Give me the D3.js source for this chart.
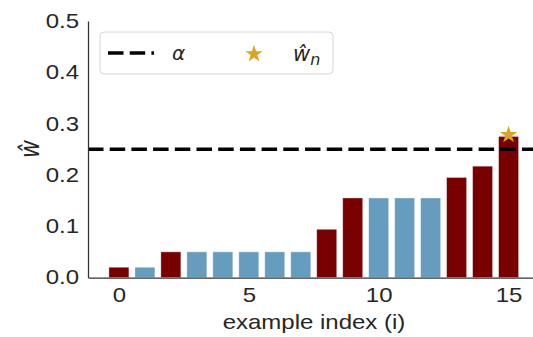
<!DOCTYPE html>
<html>
<head>
<meta charset="utf-8">
<script src="https://cdn.jsdelivr.net/npm/d3@7"></script>
<style>
  html, body { margin: 0; padding: 0; background: #fff; }
  svg { display: block; }
  text { font-family: "Liberation Sans", Arial, sans-serif; fill: #262626; }
  .math { font-family: "DejaVu Sans", sans-serif; font-style: italic; }
</style>
</head>
<body>
<script>
// ---- data ----
const indices = d3.range(16);
const values = [0.020, 0.020, 0.050, 0.050, 0.050, 0.050, 0.050, 0.050,
                0.094, 0.155, 0.155, 0.155, 0.155, 0.195, 0.217, 0.275];
const groups = ["red", "blue", "red", "blue", "blue", "blue", "blue", "blue",
                "red", "red", "blue", "blue", "blue", "red", "red", "red"];
const alphaValue = 0.25;
const starIndex = 15;
const starValue = 0.278;
const yTicks = [0.0, 0.1, 0.2, 0.3, 0.4, 0.5];
const xTicks = [0, 5, 10, 15];

const W = 533, H = 337;
const colors = { red: "#780000", blue: "#669dbf" };
const SX = 1.2; // horizontal stretch of the original figure text

const svg = d3.select("body").append("svg").attr("width", W).attr("height", H);

const x = d3.scaleLinear().domain([-1.19, 15.94]).range([88, 533]);
const y = d3.scaleLinear().domain([0, 0.5]).range([277.5, 21]);
const barW = 20;

// bars
svg.append("g").selectAll("rect").data(indices).join("rect")
  .attr("x", i => x(i) - barW / 2)
  .attr("width", barW)
  .attr("y", i => y(values[i]))
  .attr("height", i => y(0) - y(values[i]))
  .attr("fill", i => colors[groups[i]])
  .attr("stroke", "#ffffff")
  .attr("stroke-opacity", 0.45)
  .attr("stroke-width", 0.8);

// alpha dashed line
svg.append("line")
  .attr("x1", x.range()[0]).attr("x2", x.range()[1])
  .attr("y1", y(alphaValue)).attr("y2", y(alphaValue))
  .attr("stroke", "#000").attr("stroke-width", 3.6)
  .attr("stroke-dasharray", "15.5,6.2");

// star
const starPath = d3.symbol().type(d3.symbolStar).size(95)();
svg.append("path")
  .attr("d", starPath)
  .attr("transform", `translate(${x(starIndex)},${y(starValue)})`)
  .attr("fill", "#daa520");

// axes
const yAxis = svg.append("g").attr("transform", `translate(${x.range()[0]},0)`)
  .call(d3.axisLeft(y).tickValues(yTicks).tickFormat(d3.format(".1f")).tickSize(0).tickPadding(9));
const xAxis = svg.append("g").attr("transform", `translate(0,${y(0)})`)
  .call(d3.axisBottom(x).tickValues(xTicks).tickFormat(d3.format("d")).tickSize(0).tickPadding(10));

[yAxis, xAxis].forEach(g => {
  g.select(".domain").attr("stroke", "#333").attr("stroke-width", 1.25);
  g.selectAll("text").attr("font-size", 20).attr("fill", "#262626")
    .style("font-family", '"Liberation Sans", Arial, sans-serif')
    .style("transform-box", "fill-box")
    .style("transform", `scaleX(${SX})`);
});
yAxis.selectAll("text").style("transform-origin", "right center");
xAxis.selectAll("text").style("transform-origin", "center");

// axis labels
svg.append("text")
  .attr("x", 314).attr("y", 329)
  .attr("text-anchor", "middle").attr("font-size", 20)
  .style("transform-box", "fill-box").style("transform-origin", "center")
  .style("transform", `scaleX(${SX})`)
  .text("example index (i)");

svg.append("text")
  .attr("class", "math")
  .attr("transform", `translate(39,149) scale(${SX},1) rotate(-90)`)
  .attr("text-anchor", "middle").attr("font-size", 22)
  .text("ŵ");

// legend
const lg = svg.append("g");
lg.append("rect")
  .attr("x", 100).attr("y", 32).attr("width", 233).attr("height", 42)
  .attr("rx", 4).attr("fill", "#fff").attr("stroke", "#d6d6d6").attr("stroke-width", 1);
lg.append("line")
  .attr("x1", 108).attr("x2", 154).attr("y1", 53).attr("y2", 53)
  .attr("stroke", "#000").attr("stroke-width", 3.6)
  .attr("stroke-dasharray", "15.5,6.2");
lg.append("text").attr("class", "math")
  .attr("x", 172).attr("y", 60).attr("font-size", 20).text("α");
lg.append("path").attr("d", starPath)
  .attr("transform", "translate(254,54)").attr("fill", "#daa520");
const wn = lg.append("text").attr("class", "math").attr("x", 293).attr("y", 61).attr("font-size", 21);
wn.append("tspan").text("ŵ");
wn.append("tspan").attr("font-size", 16).attr("dy", 4).text("n");
</script>
</body>
</html>
